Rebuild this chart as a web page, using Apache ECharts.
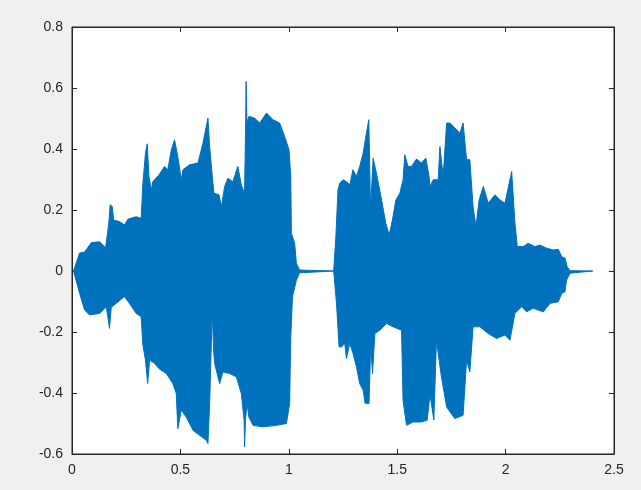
<!DOCTYPE html>
<html>
<head>
<meta charset="utf-8">
<script src="https://cdn.jsdelivr.net/npm/echarts@6/dist/echarts.min.js"></script>
<style>
html,body{margin:0;padding:0;background:#F0F0F0;}
#c{width:641px;height:490px;}
</style>
</head>
<body>
<div id="c"></div>
<script>
// Upper envelope of the waveform (time, amplitude)
var upperT = [0.007,0.035,0.058,0.089,0.127,0.155,0.170,0.176,0.186,0.192,0.219,0.242,0.258,0.296,0.319,0.327,0.339,0.347,0.355,0.366,0.373,0.401,0.427,0.442,0.458,0.473,0.488,0.504,0.512,0.542,0.581,0.604,0.627,0.635,0.647,0.655,0.678,0.689,0.704,0.719,0.742,0.765,0.781,0.796,0.801,0.803,0.807,0.816,0.819,0.843,0.866,0.897,0.927,0.958,0.981,1.001,1.009,1.012,1.027,1.035,1.050,1.058,1.207,1.217,1.227,1.235,1.250,1.266,1.281,1.296,1.312,1.327,1.343,1.358,1.369,1.377,1.389,1.404,1.428,1.447,1.463,1.478,1.494,1.512,1.527,1.535,1.550,1.566,1.589,1.612,1.632,1.647,1.651,1.666,1.689,1.697,1.712,1.728,1.743,1.766,1.789,1.804,1.820,1.835,1.850,1.863,1.878,1.897,1.920,1.951,1.974,1.997,2.028,2.043,2.054,2.081,2.104,2.135,2.158,2.189,2.220,2.243,2.259,2.274,2.284,2.297,2.402];
var upperV = [0,0.059,0.062,0.093,0.096,0.076,0.158,0.217,0.211,0.167,0.162,0.151,0.170,0.178,0.173,0.288,0.387,0.417,0.310,0.266,0.293,0.315,0.343,0.332,0.397,0.430,0.375,0.299,0.332,0.348,0.354,0.419,0.501,0.408,0.310,0.255,0.250,0.211,0.277,0.304,0.293,0.343,0.282,0.255,0.485,0.621,0.486,0.507,0.512,0.501,0.485,0.518,0.496,0.485,0.441,0.397,0.310,0.124,0.091,0.025,0.003,0,0,0.113,0.266,0.288,0.299,0.293,0.282,0.332,0.310,0.343,0.387,0.452,0.496,0.200,0.370,0.321,0.233,0.157,0.118,0.167,0.233,0.255,0.299,0.381,0.343,0.343,0.367,0.354,0.370,0.310,0.277,0.299,0.299,0.408,0.310,0.485,0.485,0.469,0.452,0.485,0.365,0.365,0.211,0.145,0.233,0.277,0.222,0.250,0.233,0.222,0.326,0.158,0.080,0.080,0.091,0.080,0.085,0.075,0.069,0.071,0.047,0.042,0.014,0.001,0];
// Lower envelope of the waveform (time, amplitude)
var lowerT = [0.007,0.035,0.058,0.081,0.127,0.158,0.173,0.181,0.204,0.242,0.265,0.296,0.319,0.327,0.339,0.349,0.358,0.381,0.401,0.435,0.465,0.481,0.488,0.504,0.527,0.558,0.589,0.620,0.627,0.635,0.647,0.653,0.658,0.681,0.696,0.727,0.758,0.781,0.794,0.796,0.800,0.807,0.816,0.835,0.881,0.943,0.989,1.004,1.009,1.017,1.035,1.050,1.058,1.207,1.220,1.232,1.243,1.258,1.266,1.281,1.296,1.312,1.327,1.343,1.352,1.370,1.378,1.386,1.397,1.420,1.451,1.481,1.520,1.527,1.543,1.573,1.612,1.638,1.647,1.651,1.669,1.681,1.704,1.728,1.766,1.804,1.820,1.835,1.850,1.881,1.920,1.958,1.997,2.020,2.043,2.074,2.097,2.127,2.174,2.205,2.243,2.259,2.274,2.281,2.297,2.402];
var lowerV = [0,-0.073,-0.128,-0.144,-0.139,-0.117,-0.188,-0.119,-0.106,-0.084,-0.106,-0.139,-0.150,-0.243,-0.292,-0.369,-0.292,-0.303,-0.320,-0.336,-0.369,-0.402,-0.517,-0.456,-0.479,-0.522,-0.539,-0.555,-0.566,-0.434,-0.128,-0.259,-0.303,-0.369,-0.331,-0.336,-0.347,-0.402,-0.489,-0.577,-0.490,-0.434,-0.479,-0.506,-0.511,-0.506,-0.500,-0.434,-0.216,-0.084,-0.030,-0.006,0,0,-0.106,-0.249,-0.249,-0.237,-0.287,-0.237,-0.270,-0.314,-0.369,-0.391,-0.434,-0.434,-0.237,-0.336,-0.205,-0.194,-0.172,-0.183,-0.194,-0.424,-0.506,-0.495,-0.495,-0.489,-0.434,-0.402,-0.489,-0.227,-0.347,-0.446,-0.484,-0.473,-0.292,-0.331,-0.183,-0.183,-0.205,-0.221,-0.210,-0.227,-0.139,-0.117,-0.134,-0.122,-0.134,-0.106,-0.101,-0.073,-0.068,-0.030,-0.007,0];
// Tick labels
var xTicks = [0, 0.5, 1, 1.5, 2, 2.5];
var yTicks = [-0.6, -0.4, -0.2, 0, 0.2, 0.4, 0.6, 0.8];

function pairs(t, v){ var o=[]; for(var i=0;i<t.length;i++) o.push([t[i], v[i]]); return o; }

var blue = '#0072BD';
var axisCol = '#262626';
var labelStyle = {color: axisCol, fontFamily: 'Liberation Sans, Arial, sans-serif', fontSize: 14};

var chart = echarts.init(document.getElementById('c'), null, {renderer: 'canvas'});
var xMin = xTicks[0], xMax = xTicks[xTicks.length-1], xInt = xTicks[1]-xTicks[0];
var yMin = yTicks[0], yMax = yTicks[yTicks.length-1], yInt = 0.2;

function fmt(v){ var r = Math.round(v*10)/10; return String(r); }

chart.setOption({
  backgroundColor: '#F0F0F0',
  animation: false,
  grid: {left: 72, right: 27, top: 27, bottom: 36, show: true, backgroundColor: '#fff', borderColor: axisCol, borderWidth: 1},
  xAxis: [
    {type: 'value', min: xMin, max: xMax, interval: xInt, position: 'bottom',
     axisLine: {show: true, onZero: false, lineStyle: {color: axisCol}},
     axisTick: {show: true, inside: true, length: 5, lineStyle: {color: axisCol}},
     axisLabel: Object.assign({margin: 9, formatter: fmt}, labelStyle),
     splitLine: {show: false}},
    {type: 'value', min: xMin, max: xMax, interval: xInt, position: 'top',
     axisLine: {show: true, onZero: false, lineStyle: {color: axisCol}},
     axisTick: {show: true, inside: true, length: 5, lineStyle: {color: axisCol}},
     axisLabel: {show: false}, splitLine: {show: false}}
  ],
  yAxis: [
    {type: 'value', min: yMin, max: yMax, interval: yInt, position: 'left',
     axisLine: {show: true, onZero: false, lineStyle: {color: axisCol}},
     axisTick: {show: true, inside: true, length: 5, lineStyle: {color: axisCol}},
     axisLabel: Object.assign({margin: 9, formatter: fmt}, labelStyle),
     splitLine: {show: false}},
    {type: 'value', min: yMin, max: yMax, interval: yInt, position: 'right',
     axisLine: {show: true, onZero: false, lineStyle: {color: axisCol}},
     axisTick: {show: true, inside: true, length: 5, lineStyle: {color: axisCol}},
     axisLabel: {show: false}, splitLine: {show: false}}
  ],
  series: [
    {type: 'line', data: pairs(upperT, upperV), showSymbol: false, symbol: 'none',
     lineStyle: {color: blue, width: 1}, areaStyle: {color: blue, opacity: 1, origin: 0}},
    {type: 'line', data: pairs(lowerT, lowerV), showSymbol: false, symbol: 'none',
     lineStyle: {color: blue, width: 1}, areaStyle: {color: blue, opacity: 1, origin: 0}}
  ]
});
</script>
</body>
</html>
